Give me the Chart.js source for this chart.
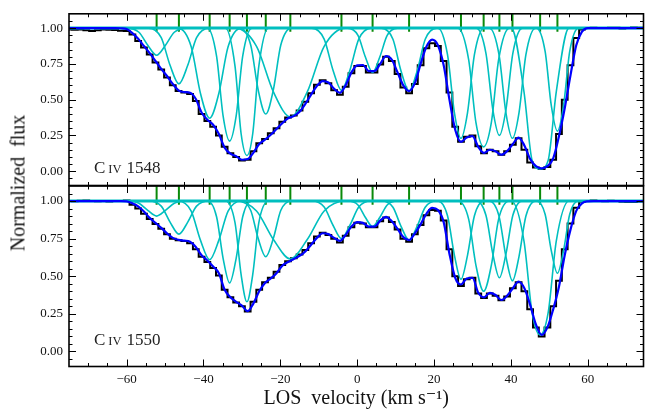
<!DOCTYPE html>
<html>
<head>
<meta charset="utf-8">
<script src="https://cdn.jsdelivr.net/npm/chart.js@4.4.1/dist/chart.umd.min.js"></script>
<style>
	body{margin:0;background:#fff;}
	#wrap{position:relative;width:645px;height:414px;overflow:hidden;}
	#wrap canvas{position:absolute;left:0;top:0;}
	#yTitle{position:absolute;left:18px;top:183px;transform:translate(-50%,-50%) rotate(-90deg);font:20px 'Liberation Serif';white-space:pre;color:#111;}
</style>
</head>
<body>
<div id="wrap">
	<canvas id="panel1548" width="645" height="414"></canvas>
	<canvas id="panel1550" width="645" height="414"></canvas>
	<div id="yTitle">Normalized  flux</div>
</div>
<script>
/* =========================== DATA =========================== */
// LOS velocity grid of the spectrum, km/s
var velocity = [-75,-73.5,-72,-70.5,-69,-67.5,-66,-64.5,-63,-61.5,
	-60,-58.5,-57,-55.5,-54,-52.5,-51,-49.5,-48,-46.5,
	-45,-43.5,-42,-40.5,-39,-37.5,-36,-34.5,-33,-31.5,
	-30,-28.5,-27,-25.5,-24,-22.5,-21,-19.5,-18,-16.5,
	-15,-13.5,-12,-10.5,-9,-7.5,-6,-4.5,-3,-1.5,
	0,1.5,3,4.5,6,7.5,9,10.5,12,13.5,
	15,16.5,18,19.5,21,22.5,24,25.5,27,28.5,
	30,31.5,33,34.5,36,37.5,39,40.5,42,43.5,
	45,46.5,48,49.5,51,52.5,54,55.5,57,58.5,
	60,61.5,63,64.5,66,67.5,69,70.5,72,73.5,
	75];

// C IV 1548 observed flux and total fit
var flux1548 = [0.99,0.988,0.99,0.985,0.98,0.985,0.99,0.988,0.986,0.982,
	0.98,0.955,0.91,0.865,0.815,0.76,0.71,0.655,0.60,0.56,
	0.55,0.54,0.49,0.40,0.35,0.31,0.25,0.17,0.125,0.10,
	0.075,0.08,0.14,0.195,0.225,0.265,0.30,0.345,0.375,0.39,
	0.425,0.485,0.545,0.605,0.635,0.615,0.565,0.535,0.59,0.685,
	0.735,0.735,0.69,0.69,0.745,0.80,0.77,0.68,0.585,0.545,
	0.61,0.74,0.86,0.895,0.875,0.77,0.55,0.31,0.205,0.24,
	0.25,0.175,0.125,0.15,0.14,0.115,0.14,0.185,0.23,0.15,
	0.06,0.025,0.015,0.03,0.08,0.26,0.50,0.74,0.93,0.99,
	1.0,1.002,1.0,1.0,1.003,1.002,0.998,1.0,1.004,1.002,
	1.0];
var fit1548 = [1,1,1,1,1,1,1,1,1,0.999,
	0.993,0.965,0.925,0.875,0.825,0.77,0.715,0.665,0.61,0.565,
	0.553,0.548,0.505,0.41,0.36,0.325,0.26,0.165,0.122,0.105,
	0.08,0.085,0.13,0.19,0.22,0.255,0.295,0.335,0.37,0.385,
	0.415,0.47,0.535,0.595,0.63,0.62,0.575,0.548,0.6,0.69,
	0.74,0.742,0.70,0.70,0.75,0.805,0.78,0.69,0.6,0.56,
	0.615,0.75,0.87,0.92,0.88,0.74,0.5,0.29,0.205,0.235,
	0.245,0.17,0.128,0.15,0.14,0.115,0.14,0.19,0.235,0.18,
	0.085,0.035,0.02,0.035,0.09,0.245,0.44,0.67,0.88,0.975,
	1,1,1,1,1,1,1,1,1,1,
	1];

// C IV 1550 observed flux and total fit
var flux1550 = [1.0,0.998,1.002,1.004,1.0,0.998,1.0,0.997,1.0,1.0,
	1.004,0.975,0.95,0.915,0.88,0.848,0.815,0.78,0.75,0.74,
	0.735,0.72,0.68,0.63,0.595,0.555,0.505,0.41,0.36,0.325,
	0.30,0.265,0.33,0.41,0.46,0.49,0.53,0.575,0.60,0.62,
	0.645,0.675,0.72,0.765,0.79,0.775,0.75,0.725,0.77,0.825,
	0.855,0.85,0.825,0.825,0.865,0.89,0.86,0.81,0.75,0.73,
	0.78,0.84,0.905,0.94,0.935,0.87,0.68,0.50,0.435,0.48,
	0.49,0.385,0.355,0.385,0.37,0.34,0.365,0.42,0.46,0.40,
	0.28,0.16,0.10,0.16,0.30,0.47,0.68,0.85,0.955,0.995,
	1.0,1.003,1.0,0.998,1.002,1.0,0.996,0.993,0.994,0.997,
	1.0];
var fit1550 = [1,1,1,1,1,1,1,1,1,1,
	0.998,0.985,0.965,0.93,0.888,0.855,0.822,0.785,0.755,0.742,
	0.737,0.73,0.695,0.64,0.605,0.565,0.52,0.41,0.36,0.33,
	0.305,0.268,0.32,0.40,0.455,0.485,0.52,0.57,0.595,0.615,
	0.635,0.665,0.71,0.755,0.786,0.78,0.755,0.735,0.775,0.83,
	0.86,0.855,0.83,0.83,0.87,0.895,0.865,0.815,0.76,0.74,
	0.785,0.845,0.915,0.955,0.94,0.86,0.65,0.49,0.445,0.485,
	0.49,0.39,0.36,0.39,0.375,0.342,0.37,0.42,0.465,0.42,
	0.31,0.18,0.11,0.16,0.28,0.43,0.64,0.81,0.935,0.985,
	0.998,1,1,1,1,1,1,1,1,1,
	1];

// component centres (green markers), km/s
var compVel = [-52.2,-46.4,-38.4,-33.2,-28.7,-23.8,-17.4,-4.1,4.0,13.5,27.0,32.9,37.0,40.4,47.6,52.1];

// single components, [velocity, flux] points across each dip
var comp1548 = [
	[[-60.1,1],[-56.8,0.971],[-54.5,0.88],[-52.2,0.81],[-49.9,0.88],[-47.6,0.971],[-44.3,1]],
	[[-54.3,1],[-51.0,0.933],[-48.7,0.74],[-46.4,0.61],[-44.1,0.74],[-41.8,0.933],[-38.5,1]],
	[[-46.6,1],[-43.2,0.87],[-40.8,0.545],[-38.4,0.37],[-36.0,0.545],[-33.6,0.87],[-30.2,1]],
	[[-39.0,1],[-36.6,0.804],[-34.9,0.386],[-33.2,0.21],[-31.5,0.386],[-29.8,0.804],[-27.4,1]],
	[[-34.3,1],[-31.8,0.734],[-30.2,0.26],[-28.7,0.11],[-27.2,0.26],[-25.6,0.734],[-23.1,1]],
	[[-30.5,1],[-27.7,0.88],[-25.8,0.572],[-23.8,0.40],[-21.8,0.572],[-19.9,0.88],[-17.1,1]],
	[[-31.8,1],[-26.2,0.873],[-21.8,0.554],[-17.4,0.38],[-13.0,0.554],[-8.6,0.873],[-3.0,1]],
	[[-11.8,1],[-8.6,0.923],[-6.3,0.706],[-4.1,0.565],[-1.9,0.706],[0.4,0.923],[3.6,1]],
	[[-2.5,1],[0.2,0.949],[2.1,0.80],[4.0,0.69],[5.9,0.80],[7.8,0.949],[10.5,1]],
	[[6.3,1],[9.3,0.922],[11.4,0.70],[13.5,0.56],[15.6,0.70],[17.7,0.922],[20.7,1]],
	[[21.0,1],[23.5,0.814],[25.3,0.408],[27.0,0.23],[28.7,0.408],[30.5,0.814],[33.0,1]],
	[[26.2,1],[29.0,0.78],[30.9,0.339],[32.9,0.17],[34.9,0.339],[36.8,0.78],[39.6,1]],
	[[31.0,1],[33.5,0.824],[35.3,0.429],[37.0,0.25],[38.7,0.429],[40.5,0.824],[43.0,1]],
	[[34.4,1],[36.9,0.814],[38.7,0.408],[40.4,0.23],[42.1,0.408],[43.9,0.814],[46.4,1]],
	[[40.1,1],[43.4,0.555],[45.5,0.077],[47.6,0.015],[49.7,0.077],[51.8,0.555],[55.1,1]],
	[[46.6,1],[48.9,0.837],[50.5,0.46],[52.1,0.28],[53.7,0.46],[55.3,0.837],[57.6,1]]
];
var comp1550 = [
	[[-60.1,1],[-56.8,0.985],[-54.5,0.938],[-52.2,0.90],[-49.9,0.938],[-47.6,0.985],[-44.3,1]],
	[[-54.3,1],[-51.0,0.966],[-48.7,0.86],[-46.4,0.78],[-44.1,0.86],[-41.8,0.966],[-38.5,1]],
	[[-46.6,1],[-43.2,0.933],[-40.8,0.74],[-38.4,0.61],[-36.0,0.74],[-33.6,0.933],[-30.2,1]],
	[[-39.0,1],[-36.6,0.896],[-34.9,0.619],[-33.2,0.455],[-31.5,0.619],[-29.8,0.896],[-27.4,1]],
	[[-34.3,1],[-31.8,0.856],[-30.2,0.509],[-28.7,0.33],[-27.2,0.509],[-25.6,0.856],[-23.1,1]],
	[[-30.5,1],[-27.7,0.937],[-25.8,0.754],[-23.8,0.63],[-21.8,0.754],[-19.9,0.937],[-17.1,1]],
	[[-31.8,1],[-26.2,0.934],[-21.8,0.744],[-17.4,0.615],[-13.0,0.744],[-8.6,0.934],[-3.0,1]],
	[[-11.8,1],[-8.6,0.96],[-6.3,0.839],[-4.1,0.75],[-1.9,0.839],[0.4,0.96],[3.6,1]],
	[[-2.5,1],[0.2,0.974],[2.1,0.892],[4.0,0.83],[5.9,0.892],[7.8,0.974],[10.5,1]],
	[[6.3,1],[9.3,0.959],[11.4,0.832],[13.5,0.74],[15.6,0.832],[17.7,0.959],[20.7,1]],
	[[21.0,1],[23.5,0.902],[25.3,0.639],[27.0,0.48],[28.7,0.639],[30.5,0.902],[33.0,1]],
	[[26.2,1],[29.0,0.88],[30.9,0.572],[32.9,0.40],[34.9,0.572],[36.8,0.88],[39.6,1]],
	[[31.0,1],[33.5,0.905],[35.3,0.647],[37.0,0.49],[38.7,0.647],[40.5,0.905],[43.0,1]],
	[[34.4,1],[36.9,0.90],[38.7,0.631],[40.4,0.47],[42.1,0.631],[43.9,0.90],[46.4,1]],
	[[40.1,1],[43.4,0.734],[45.5,0.26],[47.6,0.11],[49.7,0.26],[51.8,0.734],[55.1,1]],
	[[46.6,1],[48.9,0.912],[50.5,0.671],[52.1,0.52],[53.7,0.671],[55.3,0.912],[57.6,1]]
];

// axis ticks
var velMajorTicks = [-60,-40,-20,0,20,40,60];
var velMinorTicks = [-70,-65,-55,-50,-45,-35,-30,-25,-15,-10,-5,5,10,15,25,30,35,45,50,55,65,70];
var fluxMajorTicks = [0,0.25,0.5,0.75,1];
var fluxMinorTicks = [-0.05,0.05,0.1,0.15,0.2,0.3,0.35,0.4,0.45,0.55,0.6,0.65,0.7,0.8,0.85,0.9,0.95,1.05];

/* =========================== PLUGINS =========================== */
var SERIF = "'Liberation Serif', 'DejaVu Serif', serif";

// matplotlib style frame with inward ticks on all four sides
var mplFramePlugin = {
	id: 'mplFrame',
	afterDatasetsDraw: function(chart)
	{
		var ctx = chart.ctx, area = chart.chartArea;
		var xs = chart.scales.x, ys = chart.scales.y;
		ctx.save();
		ctx.strokeStyle = '#000';
		ctx.lineWidth = 1;
		function seg(x1,y1,x2,y2){ ctx.beginPath(); ctx.moveTo(x1,y1); ctx.lineTo(x2,y2); ctx.stroke(); }
		function xTick(v,len){ var p = Math.round(xs.getPixelForValue(v))+0.5; seg(p,area.top,p,area.top+len); seg(p,area.bottom,p,area.bottom-len); }
		function yTick(v,len){ var p = Math.round(ys.getPixelForValue(v))+0.5; seg(area.left,p,area.left+len,p); seg(area.right,p,area.right-len,p); }
		velMajorTicks.forEach(function(v){ xTick(v,7); });
		velMinorTicks.forEach(function(v){ xTick(v,3.5); });
		fluxMajorTicks.forEach(function(v){ yTick(v,7); });
		fluxMinorTicks.forEach(function(v){ yTick(v,3.5); });
		ctx.lineWidth = 1.6;
		ctx.strokeRect(area.left, area.top, area.right-area.left, area.bottom-area.top);
		ctx.restore();
	}
};

// "C IV 1548" style label with small caps ion stage
var ionLabelPlugin = {
	id: 'ionLabel',
	afterDatasetsDraw: function(chart, args, opts)
	{
		var ctx = chart.ctx, area = chart.chartArea;
		var x = area.left + 25, y = area.top + 159;
		ctx.save();
		ctx.fillStyle = '#222';
		ctx.textBaseline = 'alphabetic';
		ctx.font = '17px ' + SERIF;
		ctx.fillText(opts.element, x, y);
		x += ctx.measureText(opts.element).width + 3;
		ctx.font = '12.5px ' + SERIF;
		ctx.fillText(opts.ion, x, y);
		x += ctx.measureText(opts.ion).width + 5;
		ctx.font = '17px ' + SERIF;
		ctx.fillText(opts.wave, x, y);
		ctx.restore();
	}
};

/* =========================== PANEL CREATOR =========================== */
function toPoints(xs, ys)
{
	return xs.map(function(v,i){ return {x:v, y:ys[i]}; });
}

function PanelCreator(canvasId, flux, fit, comps, wave, isBottom)
{
	var datasets = [];

	// total fit on top
	datasets.push({data: toPoints(velocity, fit), borderColor:'#0000ff', borderWidth:2.2, cubicInterpolationMode:'monotone', order:1});

	// single components
	comps.forEach(function(c)
	{
		var pts = [{x:-75,y:1}].concat(c.map(function(p){ return {x:p[0], y:p[1]}; })).concat([{x:75,y:1}]);
		datasets.push({data: pts, borderColor:'#00bfbf', borderWidth:1.6, cubicInterpolationMode:'monotone', order:2});
	});
	datasets.push({data: [{x:-75,y:1},{x:75,y:1}], borderColor:'#00bfbf', borderWidth:3, order:2});

	// component markers
	var marks = [];
	compVel.forEach(function(v){ marks.push({x:v,y:0.975},{x:v,y:1.1},{x:v,y:null}); });
	datasets.push({data: marks, borderColor:'#0a8a0a', borderWidth:2, spanGaps:false, order:3});

	// observed spectrum
	datasets.push({data: toPoints(velocity, flux), borderColor:'#000', borderWidth:2, stepped:'middle', order:4});

	var tickFont = {family: SERIF, size: 13};

	return new Chart(document.getElementById(canvasId), {
		type: 'line',
		data: {datasets: datasets},
		options: {
			responsive: false,
			animation: false,
			parsing: true,
			elements: {point: {radius: 0}},
			layout: {autoPadding: false, padding: isBottom ? {left:0, top:186, right:1.5, bottom:0} : {left:0, top:5, right:1.5, bottom:228.5}},
			plugins: {
				legend: {display: false},
				tooltip: {enabled: false},
				ionLabel: {element:'C', ion:'IV', wave: wave}
			},
			scales: {
				x: {
					type: 'linear', min: -75, max: 74.5,
					display: isBottom,
					grid: {display: false, drawTicks: false}, border: {display: false},
					afterBuildTicks: function(s){ s.ticks = velMajorTicks.map(function(v){ return {value:v}; }); },
					afterFit: function(s){ s.height = isBottom ? 47.5 : 0; },
					ticks: {
						font: tickFont, color: '#111', padding: 5, maxRotation: 0, autoSkip: false,
						callback: function(v){ return v < 0 ? '\u2212' + Math.abs(v) : String(v); }
					},
					title: {display: true, text: 'LOS  velocity (km s\u207B\u00B9)', font: {family: SERIF, size: 20}, color: '#111', padding: {top:0, bottom:3}}
				},
				y: {
					type: 'linear', min: -0.1, max: 1.1,
					grid: {display: false, drawTicks: false}, border: {display: false},
					afterBuildTicks: function(s){ s.ticks = fluxMajorTicks.map(function(v){ return {value:v}; }); },
					afterFit: function(s){ s.width = 69; },
					ticks: {font: tickFont, color: '#111', padding: 6, callback: function(v){ return v.toFixed(2); }}
				}
			}
		},
		plugins: [mplFramePlugin, ionLabelPlugin]
	});
}

PanelCreator('panel1548', flux1548, fit1548, comp1548, '1548', false);
PanelCreator('panel1550', flux1550, fit1550, comp1550, '1550', true);
</script>
</body>
</html>
